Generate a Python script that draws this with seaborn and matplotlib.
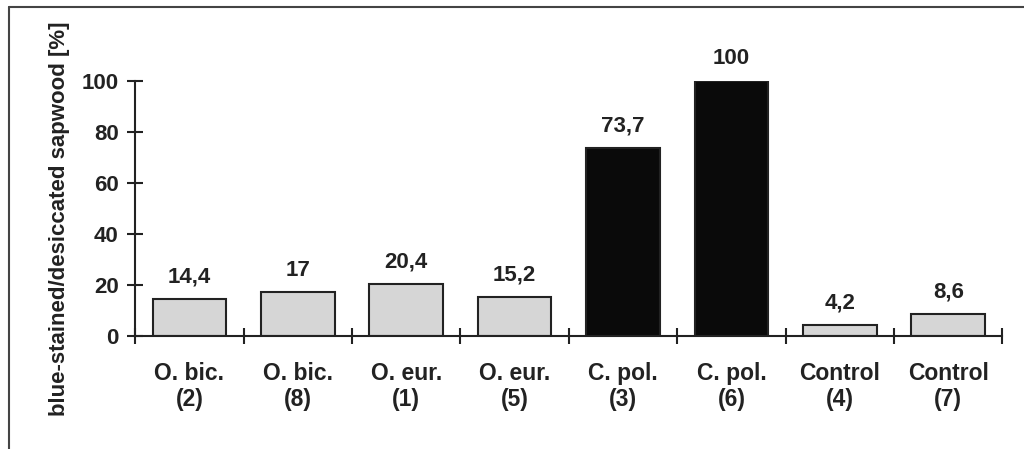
import numpy as np
import pandas as pd
import matplotlib
matplotlib.use('Agg')
import matplotlib.pyplot as plt
import seaborn as sns
from matplotlib.lines import Line2D

# data
species = ['O. bic.', 'O. bic.', 'O. eur.', 'O. eur.', 'C. pol.', 'C. pol.', 'Control', 'Control']
trees = ['(2)', '(8)', '(1)', '(5)', '(3)', '(6)', '(4)', '(7)']
values = [14.4, 17, 20.4, 15.2, 73.7, 100, 4.2, 8.6]
value_labels = ['14,4', '17', '20,4', '15,2', '73,7', '100', '4,2', '8,6']
bar_colors = ['#d6d6d6', '#d6d6d6', '#d6d6d6', '#d6d6d6', '#0a0a0a', '#0a0a0a', '#d6d6d6', '#d6d6d6']

sns.set_style('white')
plt.rcParams['font.family'] = ['Liberation Sans', 'DejaVu Sans']

cats = [s + '\n' + t for s, t in zip(species, trees)]
df = pd.DataFrame({'cat': cats, 'val': values})

fig = plt.figure(figsize=(10.24, 4.49), dpi=100)
ax = fig.add_axes([0.132, 0.252, 0.847, 0.568])

sns.barplot(data=df, x='cat', y='val', hue='cat', palette=bar_colors,
            width=0.68, edgecolor='#222222', linewidth=1.5,
            legend=False, ax=ax, saturation=1)

# value labels over bars
for i, (v, lab) in enumerate(zip(values, value_labels)):
    ax.text(i, v + 4.5, lab, ha='center', va='bottom',
            fontsize=16, fontweight='bold', color='#222222')

ax.set_xlim(-0.5, 7.5)
ax.set_ylim(0, 100)
ax.set_yticks([0, 20, 40, 60, 80, 100])
ax.set_xticks(range(8))
ax.set_xticklabels(cats, fontsize=16.5, fontweight='bold', color='#222222',
                   linespacing=1.15)
ax.set_xticks(np.arange(-0.5, 8, 1), minor=True)
ax.tick_params(which='both', bottom=True, left=True)
ax.tick_params(axis='x', which='major', length=0, pad=19)
ax.tick_params(axis='x', which='minor', length=12, width=1.5,
               direction='inout', color='#222222')
ax.tick_params(axis='y', length=12, width=1.5, direction='inout',
               color='#222222', pad=6)
for t in ax.get_yticklabels():
    t.set_fontsize(16)
    t.set_fontweight('bold')
    t.set_color('#222222')

ax.set_xlabel('')
ax.set_ylabel('blue-stained/desiccated sapwood [%]', fontsize=16,
              fontweight='bold', color='#222222')
ax.yaxis.set_label_coords(-0.075, 0.46)

sns.despine(ax=ax)
for sp in ['left', 'bottom']:
    ax.spines[sp].set_linewidth(1.5)
    ax.spines[sp].set_color('#222222')

# outer frame (left and top lines)
fig.add_artist(Line2D([9 / 1024, 9 / 1024], [0, 1 - 7 / 449],
                      transform=fig.transFigure, color='#444444', lw=1.5))
fig.add_artist(Line2D([9 / 1024, 1], [1 - 7 / 449, 1 - 7 / 449],
                      transform=fig.transFigure, color='#444444', lw=1.5))

fig.savefig('out.png', dpi=100)
